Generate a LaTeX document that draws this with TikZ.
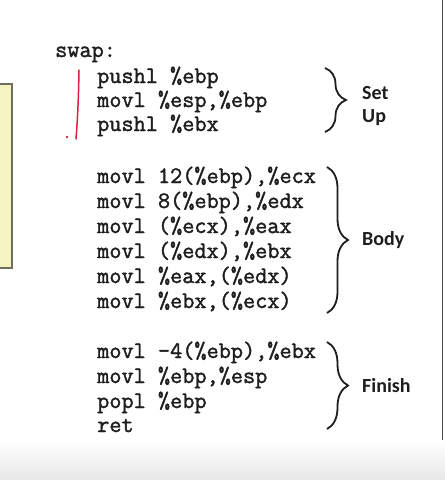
\documentclass[tikz,border=0pt]{standalone}
\usepackage{fontspec}
\setsansfont{Carlito}
\newfontfamily\codefont{Latin Modern Mono}[FakeBold=1.6]
\usetikzlibrary{decorations.pathreplacing}
\definecolor{pad}{RGB}{246,244,192}
\definecolor{padedge}{RGB}{110,110,95}
\definecolor{ink}{RGB}{30,30,30}
\definecolor{pen}{RGB}{225,30,60}
\begin{document}
\begin{tikzpicture}[x=1pt,y=-1pt,
  code/.style={anchor=base west, inner sep=0pt, text=ink,
    font=\codefont\fontsize{23.6}{26}\selectfont},
  lbl/.style={anchor=base west, inner sep=0pt, text=ink,
    font=\sffamily\bfseries\fontsize{20}{24}\selectfont},
  brc/.style={decorate, decoration={brace, amplitude=21pt}, line width=1.8pt, draw=ink}]
\useasboundingbox (0,0) rectangle (445,480);
\fill[white] (0,0) rectangle (445,480);
% bottom band
\shade[top color=white, bottom color=black!9] (0,440) rectangle (445,480);
% right edge line
\draw[black!70, line width=1pt] (442,0) -- (442,440);
% yellow pad at left
\draw[fill=pad, draw=padedge, line width=1.6pt] (-5,84) rectangle (12,268);
% code
\node[code] (sw) at (55,57) {swap:};
\node[code] (s1) at (97,83) {pushl \%ebp};
\node[code] (s2) at (97,107) {movl \%esp,\%ebp};
\node[code] (s3) at (97,131) {pushl \%ebx};
\node[code] (b1) at (97,183) {movl 12(\%ebp),\%ecx};
\node[code] (b2) at (97,208) {movl 8(\%ebp),\%edx};
\node[code] (b3) at (97,233) {movl (\%ecx),\%eax};
\node[code] (b4) at (97,258) {movl (\%edx),\%ebx};
\node[code] (b5) at (97,283) {movl \%eax,(\%edx)};
\node[code] (b6) at (97,308) {movl \%ebx,(\%ecx)};
\node[code] (f1) at (97,358) {movl -4(\%ebp),\%ebx};
\node[code] (f2) at (97,383) {movl \%ebp,\%esp};
\node[code] (f3) at (97,408) {popl \%ebp};
\node[code] (f4) at (97,432) {ret};
% braces
\coordinate (sa) at (325,68);  \coordinate (sb) at (325,132);
\coordinate (ba) at (327,167); \coordinate (bb) at (327,313);
\coordinate (fa) at (327,342); \coordinate (fb) at (327,429);
\draw[brc] (sa) -- (sb);
\draw[brc] (ba) -- (bb);
\draw[brc] (fa) -- (fb);
% labels
\node[lbl] (lset) at (362,99) {Set};
\node[lbl] (lup) at (362,122) {Up};
\node[lbl] (lbody) at (362,245) {Body};
\node[lbl] (lfin) at (362,392) {Finish};
% red pen mark
\draw[pen, line width=1.5pt, line cap=round] (79,70) .. controls (78.5,100) and (77.5,120) .. (76,139);
\fill[pen] (67,137) circle (1.3);
\end{tikzpicture}
\end{document}
